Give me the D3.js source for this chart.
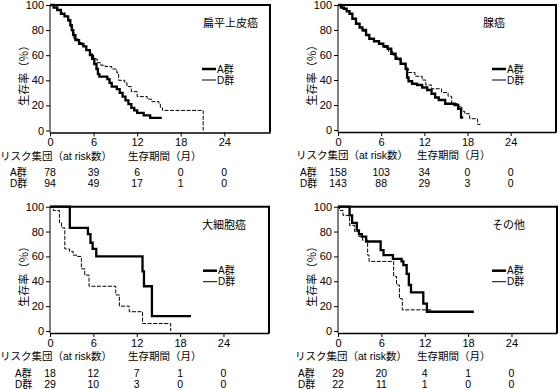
<!DOCTYPE html>
<html lang="ja">
<head>
<meta charset="UTF-8">
<title>生存曲線</title>
<style>
  body { margin: 0; background: #fff; }
  svg text { font-family: "Liberation Sans", Arial, "Noto Sans CJK JP", sans-serif; fill: #000; }
</style>
</head>
<body>
<div id="chart"></div>
<script src="https://d3js.org/d3.v7.min.js"></script>
<script>
// axis ticks
const monthTicks = [0, 6, 12, 18, 24];
const pctTicks = [0, 20, 40, 60, 80, 100];
const panelTitles = ["扁平上皮癌", "腺癌", "大細胞癌", "その他"];
const groupNames = ["A群", "D群"];

// Kaplan-Meier steps [month, survival %]
const sqA = [[0,100],[0.5,98],[1.0,96],[1.5,93],[2.0,91],[2.5,88],[2.8,84],[3.0,80],[3.2,76],[3.5,72],[4.0,69],[4.6,67],[5.0,64],[5.5,60],[5.8,57],[6.1,53],[6.4,49],[6.6,45],[6.8,43],[7.9,41],[8.2,38],[8.5,35],[9.2,33],[9.6,30],[10.0,27],[10.4,24],[10.8,21],[11.2,18],[11.6,16],[12.0,14],[12.9,12],[13.8,10],[15.4,10]];
const sqD = [[0,100],[0.5,98],[1.0,96],[1.5,94],[2.0,91],[2.5,87],[2.8,82],[3.0,78],[3.3,73],[3.9,70],[4.5,67],[5.0,64],[5.5,61],[6.0,57],[6.5,54],[7.0,52],[7.6,51],[8.5,49],[9.2,46],[9.45,40],[10.3,38],[10.6,35],[11.2,31],[12.0,27],[13.4,25],[14.0,23],[15.0,21],[15.2,18],[15.5,16],[21.1,0]];
const adA = [[0,100],[0.4,98],[0.8,97],[1.2,95],[1.6,93],[2.0,89],[2.5,85],[3.0,82],[3.4,80],[3.9,76],[4.35,73],[5.0,71],[5.7,69],[6.3,67],[6.9,65],[7.4,61],[8.0,57],[8.7,53],[9.4,49],[9.6,42],[9.8,39],[10.3,37],[11.0,36],[11.7,34],[12.4,32],[13.0,29],[13.5,26],[14.0,24],[14.9,21],[16.2,20],[16.7,17],[17.1,10],[17.4,10]];
const adD = [[0,100],[0.4,98],[0.8,97],[1.2,95],[1.6,93],[2.0,89],[2.5,85],[3.0,82],[3.4,79],[3.9,76],[4.35,73],[5.0,71],[5.7,69],[6.3,66],[7.0,63],[7.6,60],[8.2,56],[8.8,53],[9.4,49],[9.8,46],[10.7,43],[11.7,40],[12.2,36],[13.0,33],[14.4,30],[15.3,27],[15.8,21],[16.7,19],[17.2,15],[17.6,13],[18.3,9],[19.4,4.5],[19.8,4.5]];
const lcA = [[0,100],[2.74,83],[5.25,78],[5.6,71],[5.9,66],[6.4,60],[12.8,48],[13.0,36],[14.1,12],[19.5,12]];
const lcD = [[0,100],[0.46,97],[1.3,87],[1.6,83],[2.05,66],[2.7,64],[3.2,61],[3.75,60],[4.34,50],[4.8,45],[5.4,36],[9.1,29],[9.6,20],[10.96,15.5],[12.8,6],[16.7,0]];
const otA = [[0,100],[1.6,93],[1.95,87],[2.6,81],[2.9,78],[3.3,76],[3.9,72],[5.9,65],[6.3,61],[7.6,58],[8.8,56],[9.05,53],[9.5,46],[9.8,37],[10.1,31],[11.8,22],[12.3,15.5],[18.8,15.5]];
const otD = [[0,100],[0.2,97],[0.7,93],[1.6,85],[2.3,80],[2.9,76],[3.4,73],[4.1,61],[4.3,56],[7.7,44],[8.1,37],[8.5,26],[8.9,17],[12.9,17]];

// numbers at risk at 0, 6, 12, 18, 24 months
const riskSqA = [78, 39, 6, 0, 0];
const riskSqD = [94, 49, 17, 1, 0];
const riskAdA = [158, 103, 34, 0, 0];
const riskAdD = [143, 88, 29, 3, 0];
const riskLcA = [18, 12, 7, 1, 0];
const riskLcD = [29, 10, 3, 0, 0];
const riskOtA = [29, 20, 4, 1, 0];
const riskOtD = [22, 11, 1, 0, 0];

const curves = [[sqA, sqD], [adA, adD], [lcA, lcD], [otA, otD]];
const risks = [[riskSqA, riskSqD], [riskAdA, riskAdD], [riskLcA, riskLcD], [riskOtA, riskOtD]];

// panel layout (pixels)
const panels = [
  { left: 50, right: 270, top: 5, zero: 130.5, titleX: 203, legX: 202, hdrX: 0, rowX: 10, hdr2X: 128 },
  { left: 338, right: 556, top: 5, zero: 130, titleX: 483, legX: 492, hdrX: 296, rowX: 300, hdr2X: 417 },
  { left: 50, right: 269, top: 206.7, zero: 331, titleX: 202, legX: 203, hdrX: 0, rowX: 15, hdr2X: 128 },
  { left: 338, right: 557, top: 206.7, zero: 331, titleX: 492, legX: 492, hdrX: 295, rowX: 298, hdr2X: 417 }
];

const svg = d3.select("#chart").append("svg")
  .attr("width", 560).attr("height", 389);

panels.forEach(function(p, i) {
  const x = d3.scaleLinear().domain([0, 30.3]).range([p.left, p.right]);
  const y = d3.scaleLinear().domain([0, 100]).range([p.zero, p.top]);
  const bottom = p.zero + 2;
  const g = svg.append("g");

  // frame
  g.append("line").attr("x1", p.left).attr("x2", p.right).attr("y1", p.top).attr("y2", p.top)
    .attr("stroke", "#000").attr("stroke-width", 2);
  g.append("line").attr("x1", p.right).attr("x2", p.right).attr("y1", p.top - 1).attr("y2", bottom)
    .attr("stroke", "#000").attr("stroke-width", 2);

  // axes
  g.append("g").attr("transform", "translate(0," + bottom + ")")
    .call(d3.axisBottom(x).tickValues(monthTicks).tickSize(4).tickPadding(2).tickSizeOuter(0))
    .call(a => a.select(".domain").attr("stroke-width", 1.5))
    .call(a => a.selectAll("text").style("font-size", "11px"));
  g.append("g").attr("transform", "translate(" + p.left + ",0)")
    .call(d3.axisLeft(y).tickValues(pctTicks).tickSize(4).tickPadding(2).tickSizeOuter(0))
    .call(a => a.select(".domain").attr("d", "M0," + p.top + "V" + bottom))
    .call(a => a.selectAll("text").style("font-size", "11px"));

  // y label
  g.append("text")
    .attr("transform", "translate(" + (p.left - 26) + "," + ((p.top + p.zero) / 2 + 5) + ") rotate(-90)")
    .attr("text-anchor", "middle").attr("dy", "0.35em")
    .style("font-size", "11px")
    .text("生存率（％）");

  // title
  g.append("text").attr("x", p.titleX).attr("y", p.top + 22)
    .style("font-size", "11px").text(panelTitles[i]);

  // curves
  const line = d3.line().x(d => x(d[0])).y(d => y(d[1])).curve(d3.curveStepAfter);
  g.append("path").datum(curves[i][1]).attr("d", line)
    .attr("fill", "none").attr("stroke", "#000").attr("stroke-width", 1)
    .attr("stroke-dasharray", "4,1.5");
  g.append("path").datum(curves[i][0]).attr("d", line)
    .attr("fill", "none").attr("stroke", "#000").attr("stroke-width", 2.3);

  // legend
  groupNames.forEach(function(name, k) {
    const ly = p.top + 64 + k * 11;
    g.append("line").attr("x1", p.legX).attr("x2", p.legX + 14).attr("y1", ly).attr("y2", ly)
      .attr("stroke", "#000").attr("stroke-width", k === 0 ? 2.5 : 1);
    g.append("text").attr("x", p.legX + 15).attr("y", ly).attr("dy", "0.35em")
      .style("font-size", "10px").text(name);
  });

  // risk table
  g.append("text").attr("x", p.hdrX).attr("y", p.zero + 29)
    .style("font-size", "10.5px").text("リスク集団（at risk数）");
  g.append("text").attr("x", p.hdr2X).attr("y", p.zero + 29)
    .style("font-size", "10.5px").text("生存期間（月）");
  groupNames.forEach(function(name, k) {
    const ry = p.zero + 42 + k * 11;
    g.append("text").attr("x", p.rowX).attr("y", ry).attr("dy", "0.35em")
      .style("font-size", "10px").text(name);
    g.selectAll(null).data(risks[i][k]).enter().append("text")
      .attr("x", (d, j) => x(monthTicks[j])).attr("y", ry).attr("dy", "0.35em")
      .attr("text-anchor", "middle").style("font-size", "10.5px")
      .text(d => d);
  });
});
</script>
</body>
</html>
